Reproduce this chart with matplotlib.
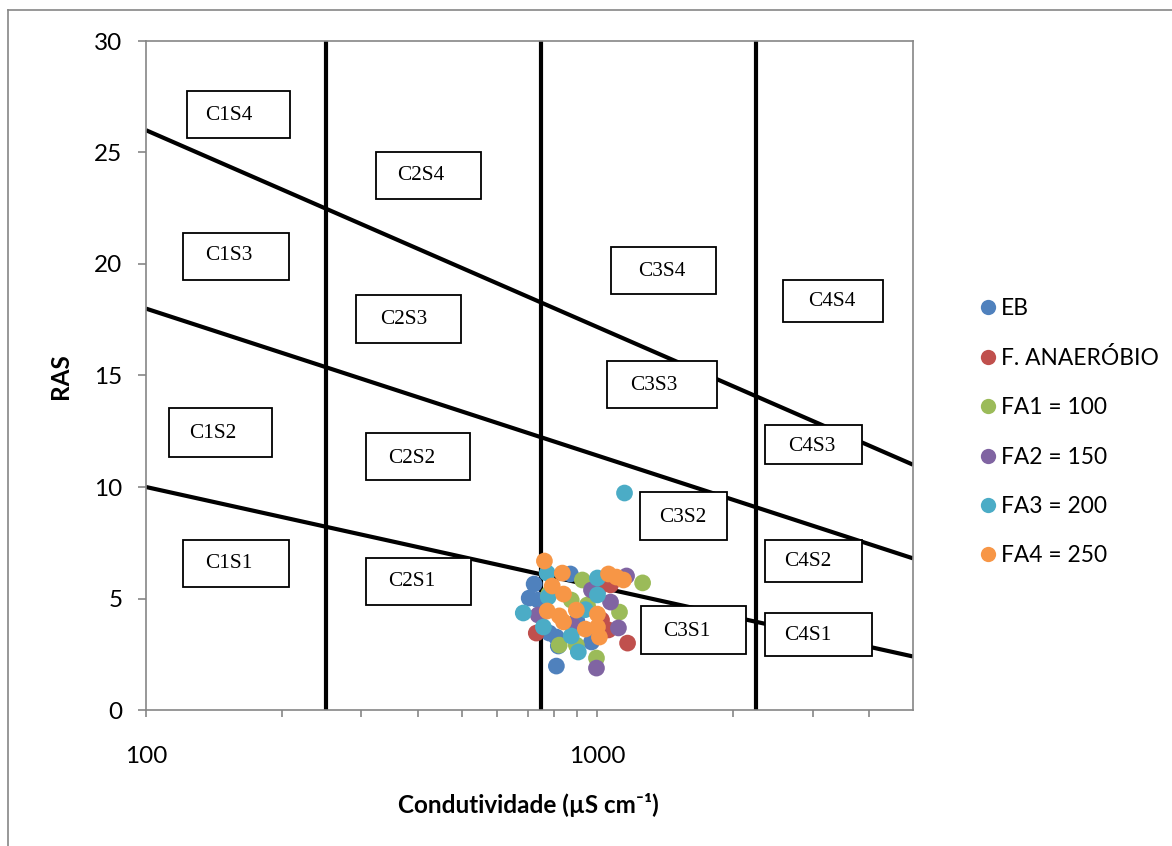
import matplotlib
matplotlib.use("Agg")
import matplotlib.pyplot as plt
from matplotlib.patches import Rectangle
from matplotlib.lines import Line2D
from matplotlib.ticker import FixedLocator, NullFormatter

# ---------------- data ----------------
series_names = ["EB", "F. ANAERÓBIO", "FA1 = 100", "FA2 = 150", "FA3 = 200", "FA4 = 250"]
series_colors = ["#4F81BD", "#C0504D", "#9BBB59", "#8064A2", "#4BACC6", "#F79646"]

eb_x = [871, 724, 706, 739, 811, 819, 970, 811, 782, 760, 900, 1000]
eb_y = [6.10, 5.65, 5.02, 4.93, 3.27, 2.87, 3.05, 1.97, 3.45, 4.40, 4.00, 5.30]

fan_x = [732, 1166, 1069, 1021, 1058, 1050, 950]
fan_y = [3.45, 3.00, 5.61, 4.04, 3.59, 5.70, 4.60]

fa1_x = [926, 1259, 1119, 875, 823, 898, 995, 950, 780]
fa1_y = [5.83, 5.70, 4.39, 4.93, 2.91, 2.91, 2.33, 4.71, 5.20]

fa2_x = [1160, 1069, 1113, 995, 739, 970, 880]
fa2_y = [6.01, 4.84, 3.68, 1.88, 4.26, 5.38, 3.80]

fa3_x = [774, 778, 685, 1000, 1000, 759, 875, 907, 1148, 940]
fa3_y = [6.14, 5.07, 4.35, 5.92, 5.16, 3.72, 3.32, 2.60, 9.73, 4.50]

fa4_x = [763, 836, 794, 841, 1058, 1102, 1142, 774, 823, 841, 898, 1000, 940, 1000, 1010]
fa4_y = [6.68, 6.14, 5.56, 5.20, 6.10, 5.96, 5.83, 4.44, 4.22, 3.95, 4.48, 4.30, 3.63, 3.72, 3.27]

# class boundaries
cond_bounds = [250, 750, 2250]
sar_line_x = [100, 5000]
sar_line_top = [26, 11]
sar_line_mid = [18, 6.8]
sar_line_low = [10, 2.4]

class_labels = ["C1S4", "C2S4", "C1S3", "C3S4", "C4S4", "C2S3", "C3S3", "C1S2",
                "C2S2", "C4S3", "C3S2", "C1S1", "C2S1", "C4S2", "C3S1", "C4S1"]

x_ticks = [100, 1000]
x_ticklabels = ["100", "1000"]
y_ticks = [0, 5, 10, 15, 20, 25, 30]

# ---------------- figure ----------------
W, H = 1172, 846
fig = plt.figure(figsize=(W / 100, H / 100), dpi=100)

def fx(px):
    return px / W

def fy(py):
    return 1 - py / H

ax = fig.add_axes([fx(146), fy(710), fx(913) - fx(146), fy(41) - fy(710)])
ax.set_xscale("log")
ax.set_xlim(100, 5000)
ax.set_ylim(0, 30)

grey = "#868686"
for s in ax.spines.values():
    s.set_color(grey)
    s.set_linewidth(1.2)

ax.xaxis.set_major_locator(FixedLocator(x_ticks))
ax.set_xticklabels(x_ticklabels)
ax.xaxis.set_minor_locator(FixedLocator([200, 300, 400, 500, 600, 700, 800, 900,
                                         2000, 3000, 4000]))
ax.xaxis.set_minor_formatter(NullFormatter())
ax.set_yticks(y_ticks)
ax.tick_params(axis="x", which="both", direction="out", length=5, width=1.2,
               color=grey, pad=21, labelsize=17.5)
ax.tick_params(axis="y", which="both", direction="out", length=6, width=1.2,
               color=grey, pad=11, labelsize=17.5)
for lab in ax.get_xticklabels() + ax.get_yticklabels():
    lab.set_family(["Lato", "DejaVu Sans"])

# boundary lines
for xv in cond_bounds:
    ax.plot([xv, xv], [0, 30], color="black", lw=3, solid_capstyle="butt", zorder=2)
for yy in (sar_line_top, sar_line_mid, sar_line_low):
    ax.plot(sar_line_x, yy, color="black", lw=3, solid_capstyle="butt", zorder=2)

# scatter series
xs = [eb_x, fan_x, fa1_x, fa2_x, fa3_x, fa4_x]
ys = [eb_y, fan_y, fa1_y, fa2_y, fa3_y, fa4_y]
handles = []
for name, col, x, y in zip(series_names, series_colors, xs, ys):
    ax.scatter(x, y, s=145, color=col, edgecolors="none", zorder=4, label=name)
    handles.append(Line2D([], [], marker="o", linestyle="none", markersize=11,
                          markerfacecolor=col, markeredgecolor="none", label=name))

# class boxes (pixel positions: left, top, right, bottom) and text centres
boxes = [(187, 91, 290, 138), (376, 152, 481, 199), (183, 233, 289, 280),
         (611, 247, 716, 294), (783, 280, 883, 322), (356, 295, 461, 343),
         (607, 361, 717, 408), (169, 408, 272, 457), (366, 433, 470, 480),
         (765, 425, 862, 464), (640, 492, 727, 540), (183, 540, 289, 587),
         (366, 558, 471, 605), (765, 540, 862, 582), (641, 606, 746, 654),
         (765, 613, 872, 656)]
text_pos = [(229, 115), (421, 175), (229, 256), (662, 271), (832, 302),
            (404, 319), (654, 385), (213, 433), (412, 458), (812, 446),
            (683, 517), (229, 563), (412, 582), (808, 562), (687, 631),
            (808, 635)]
for lab, (l, t, r, b), (tx, ty) in zip(class_labels, boxes, text_pos):
    rect = Rectangle((fx(l), fy(b)), fx(r) - fx(l), fy(t) - fy(b),
                     transform=fig.transFigure, facecolor="white",
                     edgecolor="black", lw=1.3, zorder=5)
    fig.add_artist(rect)
    fig.text(fx(tx), fy(ty), lab, ha="center", va="center",
             family="Liberation Serif", fontsize=15.3, zorder=6)

# axis labels
fig.text(fx(528), fy(805), "Condutividade (µS cm⁻¹)", ha="center", va="center",
         fontsize=17.5, fontweight="bold", family=["Lato", "DejaVu Sans"])
fig.text(fx(60), fy(376), "RAS", ha="center", va="center", rotation=90,
         fontsize=17.5, fontweight="bold", family=["Lato", "DejaVu Sans"])

# legend
leg = fig.legend(handles=handles, loc="center left",
                 bbox_to_anchor=(fx(974), fy(432)), frameon=False,
                 labelspacing=1.24, handletextpad=0.0, handlelength=1.2,
                 borderaxespad=0, borderpad=0,
                 prop={"family": ["Lato", "DejaVu Sans"], "size": 16.4})

# outer chart border (only left and top visible)
fig.add_artist(Line2D([fx(8), fx(8)], [0, fy(10)], transform=fig.transFigure,
                      color=grey, lw=1.2))
fig.add_artist(Line2D([fx(8), 1], [fy(10), fy(10)], transform=fig.transFigure,
                      color=grey, lw=1.2))

fig.savefig("out.png", dpi=100, facecolor="white")
